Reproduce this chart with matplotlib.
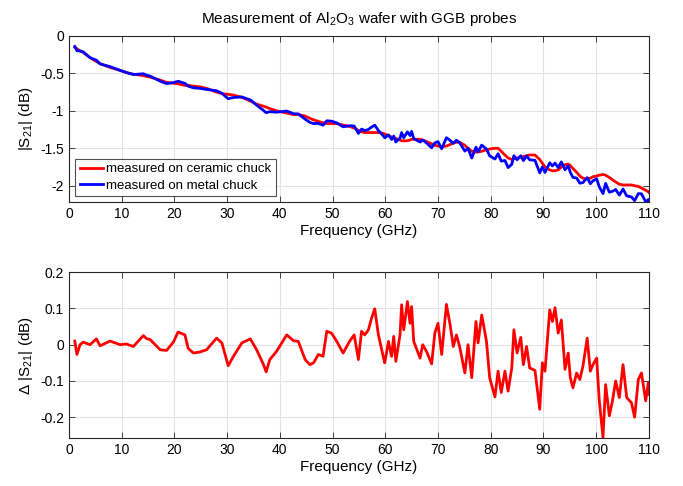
import numpy as np
import matplotlib
matplotlib.use("Agg")
from matplotlib import pyplot as plt

plt.rcParams['font.family'] = ['Liberation Sans', 'DejaVu Sans']
plt.rcParams['mathtext.fontset'] = 'custom'
plt.rcParams['mathtext.rm'] = 'Liberation Sans'
plt.rcParams['mathtext.it'] = 'Liberation Sans:italic'
plt.rcParams['axes.unicode_minus'] = False

# frequency points (GHz)
freq = [1.1, 1.5, 2.1, 2.7, 4.0, 5.2, 5.9, 7.8, 9.7, 10.9,
        12.2, 14.1, 14.7, 15.4, 17.3, 18.5, 19.8, 20.7, 22.0, 22.6,
        23.6, 24.9, 26.1, 28.0, 29.0, 30.2, 31.2, 32.8, 34.4, 35.6,
        36.9, 37.4, 38.1, 39.4, 41.3, 42.6, 43.5, 44.8, 45.7, 46.4,
        47.3, 48.2, 48.9, 49.8, 50.8, 52.0, 53.3, 54.1, 54.9, 55.5,
        56.1, 56.8, 57.4, 58.0, 58.7, 59.6, 59.9, 60.6, 61.2, 61.6,
        62.0, 62.8, 63.1, 63.5, 64.2, 64.7, 65.0, 65.4, 66.6, 67.1,
        67.8, 68.8, 69.4, 70.0, 70.7, 71.6, 72.3, 72.9, 73.5, 74.1,
        75.1, 75.7, 76.4, 77.2, 77.6, 78.3, 79.2, 79.8, 80.8, 81.4,
        82.0, 82.7, 83.3, 84.0, 84.4, 85.0, 85.7, 86.2, 86.8, 87.4,
        88.4, 89.3, 89.8, 90.3, 91.2, 91.7, 92.2, 92.8, 93.4, 94.1,
        94.7, 95.1, 95.6, 96.3, 96.9, 97.5, 98.3, 98.9, 99.4, 100.1,
        100.6, 101.3, 101.8, 102.5, 103.1, 103.7, 104.4, 105.1, 105.8, 106.7,
        107.3, 108.0, 108.6, 109.4, 109.9, 110.0]

# |S21| measured on ceramic chuck (dB)
s21_ceramic = [-0.15, -0.17, -0.20, -0.22, -0.29, -0.34, -0.37, -0.42, -0.46, -0.49,
               -0.51, -0.53, -0.54, -0.55, -0.59, -0.62, -0.63, -0.64, -0.66, -0.66,
               -0.67, -0.68, -0.70, -0.75, -0.77, -0.78, -0.79, -0.82, -0.87, -0.91,
               -0.94, -0.95, -0.97, -1.00, -1.03, -1.05, -1.05, -1.07, -1.10, -1.12,
               -1.14, -1.16, -1.17, -1.17, -1.17, -1.19, -1.21, -1.23, -1.26, -1.28,
               -1.29, -1.29, -1.29, -1.29, -1.29, -1.30, -1.31, -1.33, -1.35, -1.36,
               -1.37, -1.39, -1.40, -1.40, -1.40, -1.39, -1.38, -1.38, -1.38, -1.39,
               -1.41, -1.44, -1.46, -1.47, -1.48, -1.47, -1.45, -1.43, -1.42, -1.42,
               -1.46, -1.50, -1.54, -1.55, -1.55, -1.54, -1.52, -1.51, -1.50, -1.50,
               -1.54, -1.59, -1.63, -1.65, -1.64, -1.63, -1.62, -1.61, -1.60, -1.59,
               -1.59, -1.65, -1.70, -1.75, -1.79, -1.80, -1.80, -1.79, -1.75, -1.72,
               -1.71, -1.73, -1.77, -1.82, -1.87, -1.90, -1.91, -1.90, -1.88, -1.87,
               -1.86, -1.85, -1.86, -1.89, -1.92, -1.95, -1.98, -1.99, -1.99, -1.99,
               -2.00, -2.01, -2.03, -2.06, -2.08, -2.09]

# difference metal - ceramic (dB)
delta = [0.010, -0.027, 0.000, 0.007, 0.000, 0.016, -0.003, 0.010, 0.000, 0.002,
         -0.005, 0.025, 0.017, 0.014, -0.014, -0.016, 0.007, 0.035, 0.027, -0.010,
         -0.023, -0.020, -0.014, 0.018, 0.005, -0.058, -0.032, 0.005, 0.016, -0.014,
         -0.055, -0.075, -0.041, -0.018, 0.027, 0.011, 0.009, -0.041, -0.055, -0.050,
         -0.027, -0.032, 0.037, 0.032, 0.009, -0.023, 0.011, 0.027, -0.041, 0.037,
         0.027, 0.041, 0.073, 0.099, 0.027, -0.032, -0.050, 0.009, -0.032, 0.023,
         -0.046, 0.027, 0.110, 0.041, 0.119, 0.059, 0.105, 0.009, -0.037, 0.000,
         -0.018, -0.053, 0.032, 0.059, -0.027, 0.111, 0.055, -0.005, 0.027, -0.005,
         -0.078, 0.000, -0.091, 0.064, 0.005, 0.082, 0.009, -0.091, -0.144, -0.073,
         -0.132, -0.073, -0.128, -0.064, 0.041, -0.023, 0.020, -0.055, -0.005, -0.064,
         -0.071, -0.178, -0.050, -0.073, 0.096, 0.064, 0.102, 0.032, 0.068, -0.068,
         -0.023, -0.091, -0.119, -0.078, -0.096, -0.059, 0.018, -0.073, -0.055, -0.037,
         -0.155, -0.256, -0.110, -0.196, -0.155, -0.100, -0.146, -0.055, -0.146, -0.160,
         -0.200, -0.096, -0.078, -0.155, -0.105, -0.137]

assert len(freq) == len(s21_ceramic) == len(delta)

# metal chuck curve = ceramic + difference
s21_metal = np.array(s21_ceramic) + np.array(delta)

xticks = list(range(0, 111, 10))


def style_axes(ax):
    ax.grid(True, color='#e3e3e3', linewidth=0.8)
    ax.set_axisbelow(True)
    ax.tick_params(direction='in', top=True, right=True, length=4,
                   labelsize=10, color='#262626', width=0.6)
    for s in ax.spines.values():
        s.set_color('#262626')
        s.set_linewidth(0.8)
    ax.set_xlim(0, 110)
    ax.set_xticks(xticks)


fig = plt.figure(figsize=(6.83, 4.86), dpi=100)
ax1 = fig.add_axes([0.101, 0.584, 0.849, 0.342])
ax2 = fig.add_axes([0.101, 0.099, 0.849, 0.341])

ax1.plot(freq, s21_ceramic, color='#ff0000', linewidth=2,
         label='measured on ceramic chuck')
ax1.plot(freq, s21_metal, color='#0000ff', linewidth=2,
         label='measured on metal chuck')
style_axes(ax1)
ax1.set_ylim(-2.22, 0)
ax1.set_yticks([0, -0.5, -1, -1.5, -2])
ax1.set_yticklabels(['0', '-0.5', '-1', '-1.5', '-2'])
ax1.set_xlabel('Frequency (GHz)', fontsize=11, labelpad=2)
ax1.set_ylabel(r'|S$_{21}$| (dB)', fontsize=11)
ax1.set_title(r'Measurement of Al$_2$O$_3$ wafer with GGB probes', fontsize=11, pad=9)
leg = ax1.legend(loc='lower left', fontsize=9.5, frameon=True, fancybox=False,
                 edgecolor='#262626', borderpad=0.35, labelspacing=0.3,
                 handlelength=1.8, handletextpad=0.2, borderaxespad=0.45)
leg.get_frame().set_linewidth(0.8)

ax2.plot(freq, delta, color='#ff0000', linewidth=2)
style_axes(ax2)
ax2.set_ylim(-0.257, 0.2)
ax2.set_yticks([0.2, 0.1, 0, -0.1, -0.2])
ax2.set_yticklabels(['0.2', '0.1', '0', '-0.1', '-0.2'])
ax2.set_xlabel('Frequency (GHz)', fontsize=11, labelpad=2)
ax2.set_ylabel(r'$\Delta$ |S$_{21}$| (dB)', fontsize=11)

fig.savefig('out.png', dpi=100)
